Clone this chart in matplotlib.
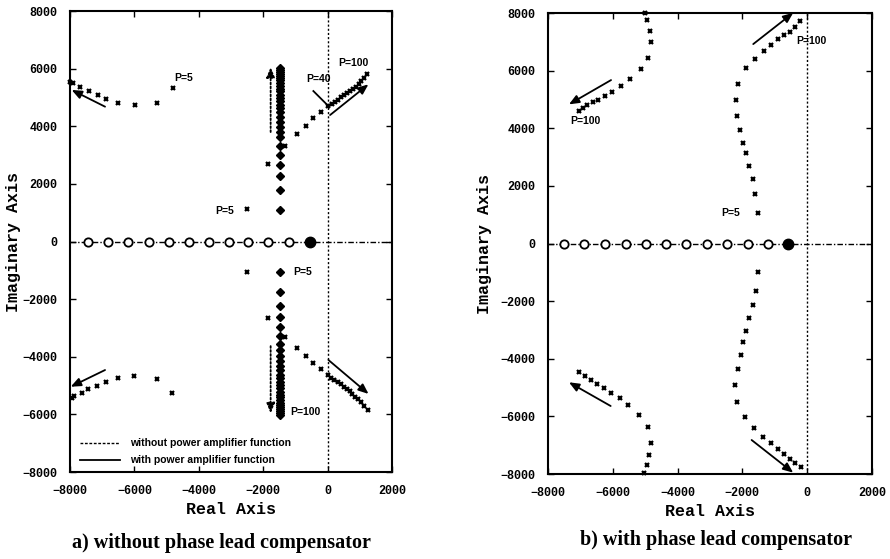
import matplotlib
matplotlib.use("Agg")
import matplotlib.pyplot as plt

# ---- data (real / imaginary parts) ----
# a) without phase lead compensator
circ_a = [-7430, -6830, -6190, -5550, -4920, -4300, -3670, -3050, -2460, -1840, -1190]
pole_a = -550

dia_x_a = -1480
dia_up_a = [1090, 1790, 2270, 2650, 3000, 3320, 3620, 3810, 3980, 4160, 4330, 4480,
            4620, 4750, 4870, 4990, 5100, 5210, 5310, 5410, 5500, 5590, 5670, 5750,
            5820, 5890, 5950, 6010]
dia_lo_a = [-1050, -1740, -2230, -2610, -2960, -3270, -3560, -3780, -3960, -4140,
            -4310, -4470, -4620, -4750, -4870, -4990, -5100, -5210, -5310, -5410,
            -5500, -5590, -5670, -5750, -5820, -5890, -5950, -6020]

ul_x_a = [-7990, -7917, -7689, -7400, -7140, -6882, -6500, -5981, -5288, -4810]
ul_y_a = [5520, 5490, 5350, 5230, 5080, 4950, 4820, 4730, 4820, 5320]
ll_x_a = [-7948, -7876, -7637, -7431, -7171, -6882, -6500, -6003, -5307, -4832]
ll_y_a = [-5420, -5361, -5268, -5129, -5014, -4886, -4747, -4667, -4761, -5268]

mid_x_a = [-2490, -1840, -1320]
mid_up_a = [1120, 2690, 3320]
mid_lo_a = [-1050, -2670, -3300]

ur_x_a = [-958, -670, -443, -214, 23, 120, 220, 320, 420, 510, 600, 690, 780, 870,
          960, 1050, 1140, 1220]
ur_y_a = [3720, 4010, 4275, 4483, 4700, 4760, 4840, 4920, 5000, 5070, 5150, 5230,
          5300, 5380, 5460, 5560, 5680, 5800]
lr_x_a = [-958, -670, -443, -214, 0, 110, 210, 310, 410, 500, 590, 680, 770, 860,
          950, 1040, 1130, 1240]
lr_y_a = [-3710, -3970, -4230, -4435, -4640, -4720, -4800, -4880, -4960, -5040,
          -5120, -5200, -5290, -5380, -5470, -5580, -5700, -5850]

# b) with phase lead compensator
circ_b = [-7506, -6880, -6241, -5602, -4985, -4368, -3732, -3093, -2467, -1837, -1220]
pole_b = -584

ul_x_b = [-5017, -4945, -4862, -4812, -4914, -5120, -5479, -5738, -6016, -6250,
          -6457, -6611, -6787, -6920, -7043]
ul_y_b = [8000, 7755, 7374, 6982, 6427, 6045, 5708, 5476, 5267, 5129, 4990, 4900,
          4806, 4712, 4598]
ll_x_b = [-7034, -6858, -6673, -6497, -6272, -6056, -5778, -5522, -5192, -4905,
          -4831, -4883, -4954, -5028]
ll_y_b = [-4448, -4598, -4737, -4875, -5025, -5177, -5372, -5604, -5951, -6378,
          -6912, -7339, -7686, -7953]
ur_x_b = [-1510, -1612, -1664, -1788, -1890, -1973, -2075, -2158, -2208, -2146,
          -1899, -1612, -1344, -1118, -893, -708, -532, -378, -223]
ur_y_b = [1048, 1707, 2228, 2689, 3130, 3498, 3938, 4424, 4980, 5535, 6079, 6392,
          6690, 6888, 7086, 7235, 7349, 7523, 7731]
lr_x_b = [-1529, -1590, -1664, -1788, -1890, -1973, -2055, -2147, -2230, -2158,
          -1920, -1633, -1356, -1118, -912, -708, -532, -378, -192]
lr_y_b = [-979, -1638, -2134, -2596, -3036, -3407, -3869, -4355, -4910, -5490,
          -6010, -6413, -6704, -6933, -7131, -7305, -7467, -7606, -7745]

ticks = [-8000, -6000, -4000, -2000, 0, 2000]
yticks = [-8000, -6000, -4000, -2000, 0, 2000, 4000, 6000, 8000]

mono = "Liberation Mono"
sans = "Liberation Sans"
serif = "Liberation Serif"

fig = plt.figure(figsize=(8.9, 5.59), dpi=100)
ax1 = fig.add_axes([0.0787, 0.1556, 0.3618, 0.8247])
ax2 = fig.add_axes([0.6157, 0.152, 0.364, 0.8247])


def setup(ax, ypad):
    ax.set_xlim(-8000, 2000)
    ax.set_ylim(-8000, 8000)
    ax.set_xticks(ticks)
    ax.set_yticks(yticks)
    ax.tick_params(direction="in", top=True, right=True, length=4, width=1, pad=9)
    for lab in ax.get_xticklabels() + ax.get_yticklabels():
        lab.set_fontfamily(mono)
        lab.set_fontweight("bold")
        lab.set_fontsize(8.5)
    for sp in ax.spines.values():
        sp.set_linewidth(1.5)
    ax.set_xlabel("Real Axis", fontfamily=mono, fontsize=12, fontweight="bold", labelpad=4)
    ax.set_ylabel("Imaginary Axis", fontfamily=mono, fontsize=12, fontweight="bold", labelpad=ypad)
    ax.axvline(0, color="black", lw=1, ls=(0, (1.5, 1.5)), zorder=1)
    ax.axhline(0, color="black", lw=1, ls=(0, (4, 1.5, 1, 1.5)), zorder=1)


def arrow(ax, tail, head, dotted=False):
    ax.annotate("", xy=head, xytext=tail, annotation_clip=False,
                arrowprops=dict(arrowstyle="-|>,head_length=0.6,head_width=0.25",
                                color="black", lw=1.3,
                                ls=(0, (1, 1.2)) if dotted else "-",
                                shrinkA=0, shrinkB=0))


def crosses(ax, x, y):
    ax.plot(x, y, ls="none", marker="x", ms=3.5, mew=1.6, color="black",
            clip_on=False, zorder=3)


def circles(ax, xs, pole):
    ax.plot(xs, [0] * len(xs), ls="none", marker="o", ms=6, mew=1.3,
            mfc="white", mec="black", zorder=3)
    ax.plot([pole], [0], ls="none", marker="o", ms=7.5, color="black", zorder=3)


lbl = dict(fontfamily=sans, fontweight="bold", fontsize=7.5, va="center")

# ---- panel a ----
setup(ax1, 1)
circles(ax1, circ_a, pole_a)
ax1.plot([dia_x_a] * len(dia_up_a), dia_up_a, ls="none", marker="D", ms=4.5, color="black", zorder=3)
ax1.plot([dia_x_a] * len(dia_lo_a), dia_lo_a, ls="none", marker="D", ms=4.5, color="black", zorder=3)
crosses(ax1, ul_x_a, ul_y_a)
crosses(ax1, ll_x_a, ll_y_a)
crosses(ax1, mid_x_a, mid_up_a)
crosses(ax1, mid_x_a, mid_lo_a)
crosses(ax1, ur_x_a, ur_y_a)
crosses(ax1, lr_x_a, lr_y_a)

arrow(ax1, (-6913, 4680), (-7950, 5260))
arrow(ax1, (-6913, -4460), (-7980, -5040))
arrow(ax1, (76, 4390), (1266, 5455))
arrow(ax1, (23, -4110), (1270, -5290))
arrow(ax1, (-1770, 3800), (-1770, 6050), dotted=True)
arrow(ax1, (-1770, -3630), (-1770, -5960), dotted=True)
ax1.plot([-443, -8], [5222, 4737], color="black", lw=1.3)

ax1.text(-4770, 5660, "P=5", **lbl)
ax1.text(-670, 5640, "P=40", **lbl)
ax1.text(333, 6180, "P=100", **lbl)
ax1.text(-3497, 1070, "P=5", **lbl)
ax1.text(-1064, -1050, "P=5", **lbl)
ax1.text(-1167, -5905, "P=100", **lbl)

ax1.plot([-7690, -6450], [-7000, -7000], color="black", lw=1, ls=(0, (2, 1.2)))
ax1.plot([-7690, -6450], [-7580, -7580], color="black", lw=1.3)
ax1.text(-6140, -7000, "without power amplifier function", **lbl)
ax1.text(-6140, -7580, "with power amplifier function", **lbl)

# ---- panel b ----
setup(ax2, 6)
circles(ax2, circ_b, pole_b)
crosses(ax2, ul_x_b, ul_y_b)
crosses(ax2, ll_x_b, ll_y_b)
crosses(ax2, ur_x_b, ur_y_b)
crosses(ax2, lr_x_b, lr_y_b)

arrow(ax2, (-6053, 5673), (-7352, 4830))
arrow(ax2, (-1664, 6922), (-430, 8009))
arrow(ax2, (-1714, -6819), (-430, -7953))
arrow(ax2, (-6065, -5639), (-7352, -4816))

ax2.text(-7300, 4250, "P=100", **lbl)
ax2.text(-325, 7040, "P=100", **lbl)
ax2.text(-2640, 1070, "P=5", **lbl)

fig.text(221 / 890, 1 - 543 / 559, "a) without phase lead compensator",
         fontfamily=serif, fontweight="bold", fontsize=14.5, ha="center", va="center")
fig.text(716 / 890, 1 - 540 / 559, "b) with phase lead compensator",
         fontfamily=serif, fontweight="bold", fontsize=14.5, ha="center", va="center")

fig.savefig("out.png", dpi=100)
